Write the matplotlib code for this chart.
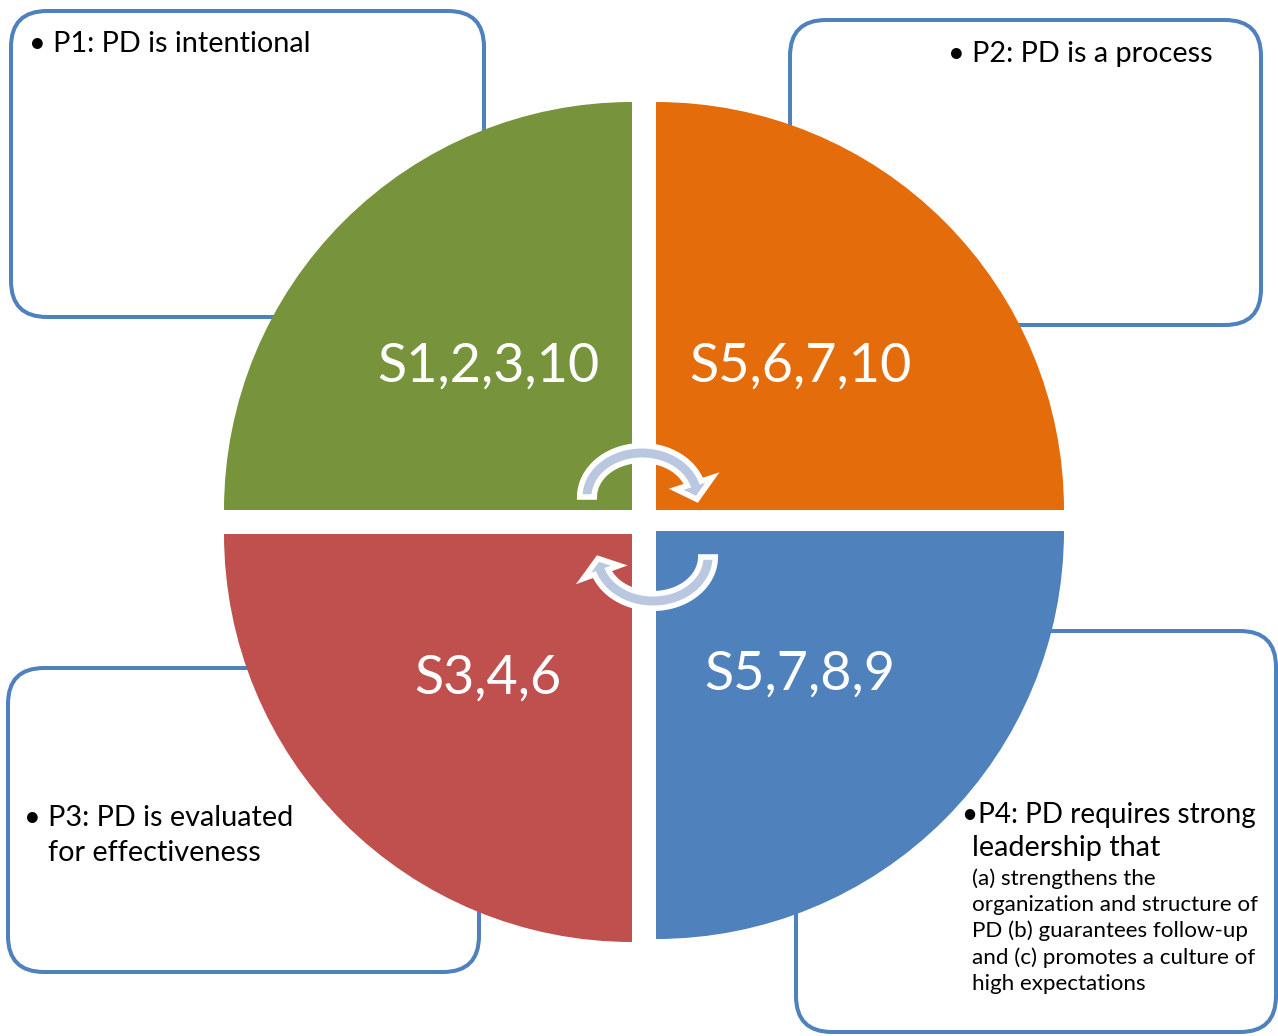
import numpy as np
import matplotlib
matplotlib.use("Agg")
import matplotlib.pyplot as plt
from matplotlib.patches import Wedge, FancyBboxPatch, Polygon

# ---- diagram content ----
quad_labels = ["S1,2,3,10", "S5,6,7,10", "S3,4,6", "S5,7,8,9"]
quad_colors = ["#77933C", "#E46C0A", "#C0504D", "#4F81BD"]

p1_lines = ["P1: PD is intentional"]
p2_lines = ["P2: PD is a process"]
p3_lines = ["P3: PD is evaluated", "for effectiveness"]
p4_main = ["\u2022P4: PD requires strong", "leadership that"]
p4_sub = ["(a) strengthens the",
          "organization and structure of",
          "PD (b) guarantees follow-up",
          "and (c) promotes a culture of",
          "high expectations"]

BOX_EDGE = "#4F81BD"
ARROW_FILL = "#B9C7E1"
FONT = ["Lato", "DejaVu Sans"]

W, H = 1278, 1036
fig = plt.figure(figsize=(W / 100, H / 100), dpi=100)
ax = fig.add_axes([0, 0, 1, 1])
ax.set_xlim(0, W)
ax.set_ylim(H, 0)
ax.set_aspect("equal")
ax.axis("off")


def box(x0, y0, x1, y1):
    p = FancyBboxPatch((x0, y0), x1 - x0, y1 - y0,
                       boxstyle="round,pad=0,rounding_size=36",
                       fc="white", ec=BOX_EDGE, lw=2.9, zorder=1)
    ax.add_patch(p)


# text boxes (behind the pie)
box(11, 11, 484, 317)
box(790, 20, 1261, 325)
box(8, 668, 479, 972)
box(796, 631, 1276, 1032)

# pie quadrants: (center, theta range) in y-down data coords
R = 408
quads = [((632, 510), 180, 270),
         ((656, 510), 270, 360),
         ((632, 534), 90, 180),
         ((656, 531), 0, 90)]
label_pos = [(488, 366), (800, 366), (488, 678), (800, 674)]
for (c, t1, t2), col, lab, lp in zip(quads, quad_colors, quad_labels, label_pos):
    ax.add_patch(Wedge(c, R, t1, t2, fc=col, ec="none", zorder=2))
    ax.text(lp[0], lp[1], lab, color="white", fontsize=38.8, family=FONT,
            ha="center", va="center", zorder=3)


def circ_arrow(cx, cy, rx, ry, w, a0, a1, head_w, tip):
    # elliptic band from angle a0 to a1 (degrees, screen ccw), head to angle tip
    ang = np.radians(np.linspace(a0, a1, 80))

    def pt(a, d):
        return (cx + (rx + d) * np.cos(a), cy - (ry + d) * np.sin(a))

    outer = [pt(a, w / 2) for a in ang]
    inner = [pt(a, -w / 2) for a in ang[::-1]]
    b = np.radians(a1)
    head = [pt(b, head_w), pt(np.radians(tip), 0), pt(b, -head_w)]
    ax.add_patch(Polygon(outer + head + inner, closed=True, fc=ARROW_FILL,
                         ec="white", lw=4, joinstyle="miter", zorder=4))


circ_arrow(642, 497, 55, 44, 14.5, 180, 18, 19, -3)
circ_arrow(653, 557, 55, 44, 14.5, 0, -160, 19, -178)

# box texts
fs_main = 20.8
fs_sub = 16.1


def put_lines(x, ys, lines, fs):
    for y, s in zip(ys, lines):
        ax.text(x, y, s, fontsize=fs, family=FONT, ha="left",
                va="center", zorder=5)


put_lines(29, [44], ["\u2022 " + p1_lines[0]], fs_main)
put_lines(948, [54], ["\u2022 " + p2_lines[0]], fs_main)
put_lines(24, [818], ["\u2022 " + p3_lines[0]], fs_main)
put_lines(48, [853], p3_lines[1:], fs_main)
put_lines(962, [815], p4_main[:1], 20.1)
put_lines(972, [848], p4_main[1:], fs_main)
put_lines(972, [879, 905, 931, 958, 984], p4_sub, fs_sub)

fig.savefig("out.png", dpi=100)
